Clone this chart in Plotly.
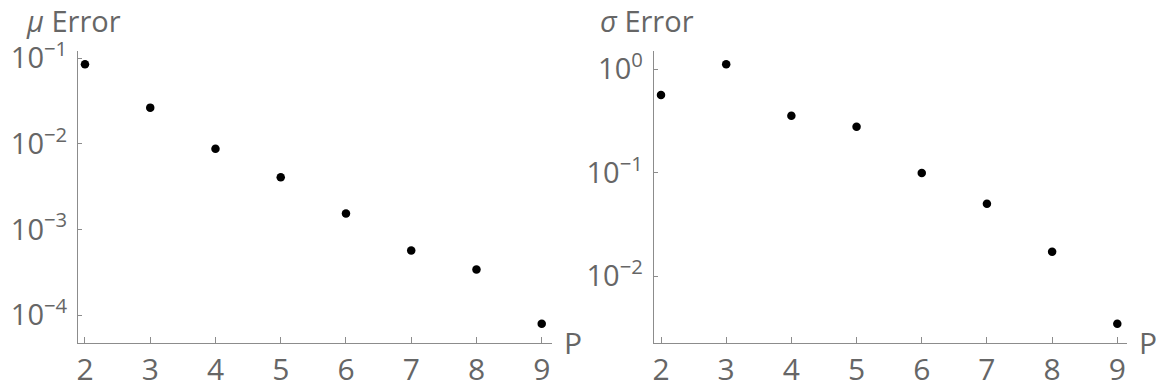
import plotly.graph_objects as go

P = [2, 3, 4, 5, 6, 7, 8, 9]
mu_error = [0.0851, 0.0265, 0.00874, 0.00407, 0.00154, 0.000569, 0.000341, 0.0000791]
sigma_error = [0.565, 1.117, 0.356, 0.279, 0.0995, 0.0503, 0.01727, 0.00348]

x_ticks = [2, 3, 4, 5, 6, 7, 8, 9]
mu_yticks = [1e-1, 1e-2, 1e-3, 1e-4]
mu_yticktext = ["10<sup>−1</sup>", "10<sup>−2</sup>", "10<sup>−3</sup>", "10<sup>−4</sup>"]
sigma_yticks = [1e0, 1e-1, 1e-2]
sigma_yticktext = ["10<sup>0</sup>", "10<sup>−1</sup>", "10<sup>−2</sup>"]

OFF = 8  # page body margin
W, H = 1164 - OFF, 388 - OFF
FONT = "Open Sans"
TXT = "#666666"
AX = "#8c8c8c"


def px(x):
    return (x - OFF) / W


def py(y):
    return 1 - (y - OFF) / H


fig = go.Figure()
fig.add_trace(go.Scatter(x=P, y=mu_error, mode="markers", xaxis="x", yaxis="y",
                         marker=dict(color="black", size=8.5), showlegend=False))
fig.add_trace(go.Scatter(x=P, y=sigma_error, mode="markers", xaxis="x2", yaxis="y2",
                         marker=dict(color="black", size=8.5), showlegend=False))

ydom = [py(343), py(51)]
common_x = dict(showline=True, linecolor=AX, linewidth=1, showgrid=False, zeroline=False,
                ticks="inside", ticklen=6, tickcolor=AX, tickvals=x_ticks, automargin=False,
                tickfont=dict(family=FONT, size=30, color=TXT), ticklabelstandoff=0)
common_y = dict(type="log", showline=True, linecolor=AX, linewidth=1, showgrid=False,
                zeroline=False, ticks="inside", ticklen=4, tickcolor=AX, automargin=False,
                tickfont=dict(family=FONT, size=29, color=TXT), domain=ydom,
                ticklabelstandoff=4)

fig.update_layout(
    width=W, height=H,
    margin=dict(l=0, r=0, t=0, b=0),
    plot_bgcolor="white", paper_bgcolor="white",
    xaxis=dict(**common_x, domain=[px(78), px(551.7)], range=[1.893, 9.153], anchor="y"),
    yaxis=dict(**common_y, range=[-4.327, -0.915], anchor="x",
               tickvals=mu_yticks, ticktext=mu_yticktext),
    xaxis2=dict(**common_x, domain=[px(653.7), px(1126.7)], range=[1.888, 9.144], anchor="y2"),
    yaxis2=dict(**common_y, range=[-2.644, 0.177], anchor="x2",
                tickvals=sigma_yticks, ticktext=sigma_yticktext),
    annotations=[
        dict(text="<i>μ</i> Error", xref="paper", yref="paper", x=px(25), y=py(41),
             xanchor="left", yanchor="bottom", showarrow=False, borderpad=0,
             font=dict(family=FONT, size=29, color=TXT)),
        dict(text="<i>σ</i> Error", xref="paper", yref="paper", x=px(599), y=py(41),
             xanchor="left", yanchor="bottom", showarrow=False, borderpad=0,
             font=dict(family=FONT, size=29, color=TXT)),
        dict(text="P", xref="paper", yref="paper", x=px(562), y=py(342),
             xanchor="left", yanchor="middle", showarrow=False,
             font=dict(family=FONT, size=30, color=TXT)),
        dict(text="P", xref="paper", yref="paper", x=px(1137), y=py(342),
             xanchor="left", yanchor="middle", showarrow=False,
             font=dict(family=FONT, size=30, color=TXT)),
    ],
)

fig.write_html("out.html")
